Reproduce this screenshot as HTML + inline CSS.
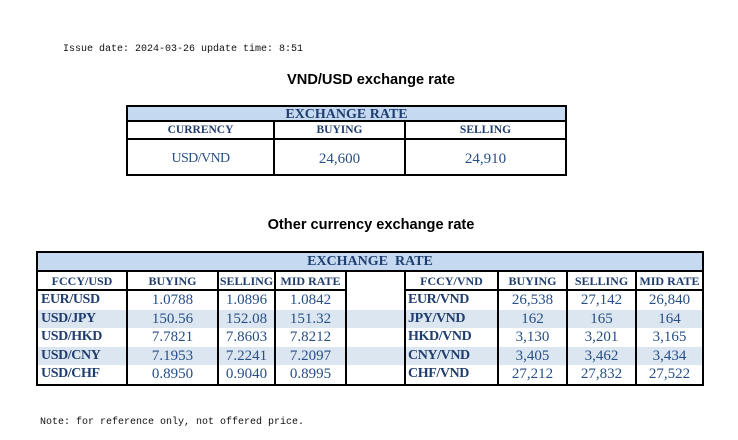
<!DOCTYPE html>
<html>
<head>
<meta charset="utf-8">
<style>
  html,body{margin:0;padding:0;background:#fff;}
  body{width:738px;height:440px;position:relative;overflow:hidden;}
  .abs{position:absolute;}
  .mono{font-family:"Liberation Mono",monospace;font-size:10px;line-height:10px;color:#111;white-space:pre;}
  .title{font-family:"Liberation Sans",Arial,sans-serif;font-weight:bold;font-size:14.6px;line-height:14.6px;color:#000;left:0;width:742px;text-align:center;}
  .bk{position:absolute;background:#000;}
  .band{position:absolute;background:#c5d9f1;}
  .stripe{position:absolute;background:#dce6f1;}
  .hd{position:absolute;font-family:"Liberation Serif","Times New Roman",serif;font-weight:bold;color:#1f3d6e;text-align:center;white-space:pre;}
  .row{position:absolute;height:18.6px;line-height:18.6px;}
  .row span{position:absolute;top:0;white-space:nowrap;font-family:"Liberation Serif","Times New Roman",serif;color:#274f86;}
  .n{font-size:15px;text-align:center;}
  .l{font-size:14px;font-weight:bold;letter-spacing:-0.4px;color:#1f3d6e !important;text-align:left;}
  .ch{font-size:12px;}
</style>
</head>
<body>

<div class="abs mono" style="left:63px;top:45px;">Issue date: 2024-03-26 update time: 8:51</div>

<div class="abs title" style="top:73px;">VND/USD exchange rate</div>

<!-- Upper table -->
<div class="band" style="left:128px;top:107px;width:437px;height:13px;"></div>
<div class="bk" style="left:126px;top:105px;width:441px;height:2px;"></div>
<div class="bk" style="left:126px;top:174px;width:441px;height:2px;"></div>
<div class="bk" style="left:126px;top:105px;width:2px;height:71px;"></div>
<div class="bk" style="left:565px;top:105px;width:2px;height:71px;"></div>
<div class="bk" style="left:126px;top:120px;width:441px;height:2px;"></div>
<div class="bk" style="left:126px;top:138px;width:441px;height:2px;"></div>
<div class="bk" style="left:273px;top:120px;width:2px;height:56px;"></div>
<div class="bk" style="left:404px;top:120px;width:2px;height:56px;"></div>

<div class="hd" style="left:128px;top:108px;width:437px;height:13px;line-height:13px;font-size:14px;">EXCHANGE RATE</div>
<div class="hd" style="left:128px;top:122px;width:145px;height:16px;line-height:16px;font-size:11.5px;">CURRENCY</div>
<div class="hd" style="left:275px;top:122px;width:129px;height:16px;line-height:16px;font-size:11.5px;">BUYING</div>
<div class="hd" style="left:406px;top:122px;width:159px;height:16px;line-height:16px;font-size:11.5px;">SELLING</div>

<div class="row" style="left:0;top:141.5px;height:34px;line-height:34px;width:738px;">
  <span style="left:128px;width:145px;font-size:14px;letter-spacing:-0.6px;text-align:center;line-height:34px;">USD/VND</span>
  <span class="n" style="left:275px;width:129px;line-height:34px;">24,600</span>
  <span class="n" style="left:406px;width:159px;line-height:34px;">24,910</span>
</div>

<div class="abs title" style="top:217.6px;">Other currency exchange rate</div>

<!-- Lower table -->
<div class="band" style="left:38px;top:253px;width:664px;height:17px;"></div>
<div class="stripe" style="left:38px;top:309.6px;width:664px;height:18.6px;"></div>
<div class="stripe" style="left:38px;top:346.8px;width:664px;height:18.6px;"></div>

<div class="bk" style="left:36px;top:251px;width:668px;height:2px;"></div>
<div class="bk" style="left:36px;top:384px;width:668px;height:2px;"></div>
<div class="bk" style="left:36px;top:251px;width:2px;height:135px;"></div>
<div class="bk" style="left:702px;top:251px;width:2px;height:135px;"></div>
<div class="bk" style="left:36px;top:270px;width:668px;height:2px;"></div>
<div class="bk" style="left:36px;top:289px;width:311px;height:2px;"></div>
<div class="bk" style="left:404px;top:289px;width:300px;height:2px;"></div>

<div class="bk" style="left:126px;top:270px;width:2px;height:116px;"></div>
<div class="bk" style="left:217px;top:270px;width:2px;height:116px;"></div>
<div class="bk" style="left:274px;top:270px;width:2px;height:116px;"></div>
<div class="bk" style="left:345px;top:270px;width:2px;height:116px;"></div>
<div class="bk" style="left:404px;top:270px;width:2px;height:116px;"></div>
<div class="bk" style="left:497px;top:270px;width:2px;height:116px;"></div>
<div class="bk" style="left:566px;top:270px;width:2px;height:116px;"></div>
<div class="bk" style="left:635px;top:270px;width:2px;height:116px;"></div>

<div class="hd" style="left:38px;top:253px;width:664px;height:17px;line-height:17px;font-size:14px;">EXCHANGE  RATE</div>

<div class="hd" style="left:38px;top:273px;width:88px;height:17px;line-height:17px;font-size:12px;">FCCY/USD</div>
<div class="hd" style="left:128px;top:273px;width:89px;height:17px;line-height:17px;font-size:12px;">BUYING</div>
<div class="hd" style="left:219px;top:273px;width:55px;height:17px;line-height:17px;font-size:12px;">SELLING</div>
<div class="hd" style="left:276px;top:273px;width:69px;height:17px;line-height:17px;font-size:12px;">MID RATE</div>
<div class="hd" style="left:406px;top:273px;width:91px;height:17px;line-height:17px;font-size:12px;">FCCY/VND</div>
<div class="hd" style="left:499px;top:273px;width:67px;height:17px;line-height:17px;font-size:12px;">BUYING</div>
<div class="hd" style="left:568px;top:273px;width:67px;height:17px;line-height:17px;font-size:12px;">SELLING</div>
<div class="hd" style="left:637px;top:273px;width:65px;height:17px;line-height:17px;font-size:12px;">MID RATE</div>

<div class="row" style="left:0;top:291px;width:738px;">
  <span class="l" style="left:41px;">EUR/USD</span>
  <span class="n" style="left:128px;width:89px;">1.0788</span>
  <span class="n" style="left:219px;width:55px;">1.0896</span>
  <span class="n" style="left:276px;width:69px;">1.0842</span>
  <span class="l" style="left:408px;">EUR/VND</span>
  <span class="n" style="left:499px;width:67px;">26,538</span>
  <span class="n" style="left:568px;width:67px;">27,142</span>
  <span class="n" style="left:637px;width:65px;">26,840</span>
</div>
<div class="row" style="left:0;top:309.6px;width:738px;">
  <span class="l" style="left:41px;">USD/JPY</span>
  <span class="n" style="left:128px;width:89px;">150.56</span>
  <span class="n" style="left:219px;width:55px;">152.08</span>
  <span class="n" style="left:276px;width:69px;">151.32</span>
  <span class="l" style="left:408px;">JPY/VND</span>
  <span class="n" style="left:499px;width:67px;">162</span>
  <span class="n" style="left:568px;width:67px;">165</span>
  <span class="n" style="left:637px;width:65px;">164</span>
</div>
<div class="row" style="left:0;top:328.2px;width:738px;">
  <span class="l" style="left:41px;">USD/HKD</span>
  <span class="n" style="left:128px;width:89px;">7.7821</span>
  <span class="n" style="left:219px;width:55px;">7.8603</span>
  <span class="n" style="left:276px;width:69px;">7.8212</span>
  <span class="l" style="left:408px;">HKD/VND</span>
  <span class="n" style="left:499px;width:67px;">3,130</span>
  <span class="n" style="left:568px;width:67px;">3,201</span>
  <span class="n" style="left:637px;width:65px;">3,165</span>
</div>
<div class="row" style="left:0;top:346.8px;width:738px;">
  <span class="l" style="left:41px;">USD/CNY</span>
  <span class="n" style="left:128px;width:89px;">7.1953</span>
  <span class="n" style="left:219px;width:55px;">7.2241</span>
  <span class="n" style="left:276px;width:69px;">7.2097</span>
  <span class="l" style="left:408px;">CNY/VND</span>
  <span class="n" style="left:499px;width:67px;">3,405</span>
  <span class="n" style="left:568px;width:67px;">3,462</span>
  <span class="n" style="left:637px;width:65px;">3,434</span>
</div>
<div class="row" style="left:0;top:365.4px;width:738px;">
  <span class="l" style="left:41px;">USD/CHF</span>
  <span class="n" style="left:128px;width:89px;">0.8950</span>
  <span class="n" style="left:219px;width:55px;">0.9040</span>
  <span class="n" style="left:276px;width:69px;">0.8995</span>
  <span class="l" style="left:408px;">CHF/VND</span>
  <span class="n" style="left:499px;width:67px;">27,212</span>
  <span class="n" style="left:568px;width:67px;">27,832</span>
  <span class="n" style="left:637px;width:65px;">27,522</span>
</div>

<div class="abs mono" style="left:40px;top:418.3px;">Note: for reference only, not offered price.</div>

</body>
</html>
